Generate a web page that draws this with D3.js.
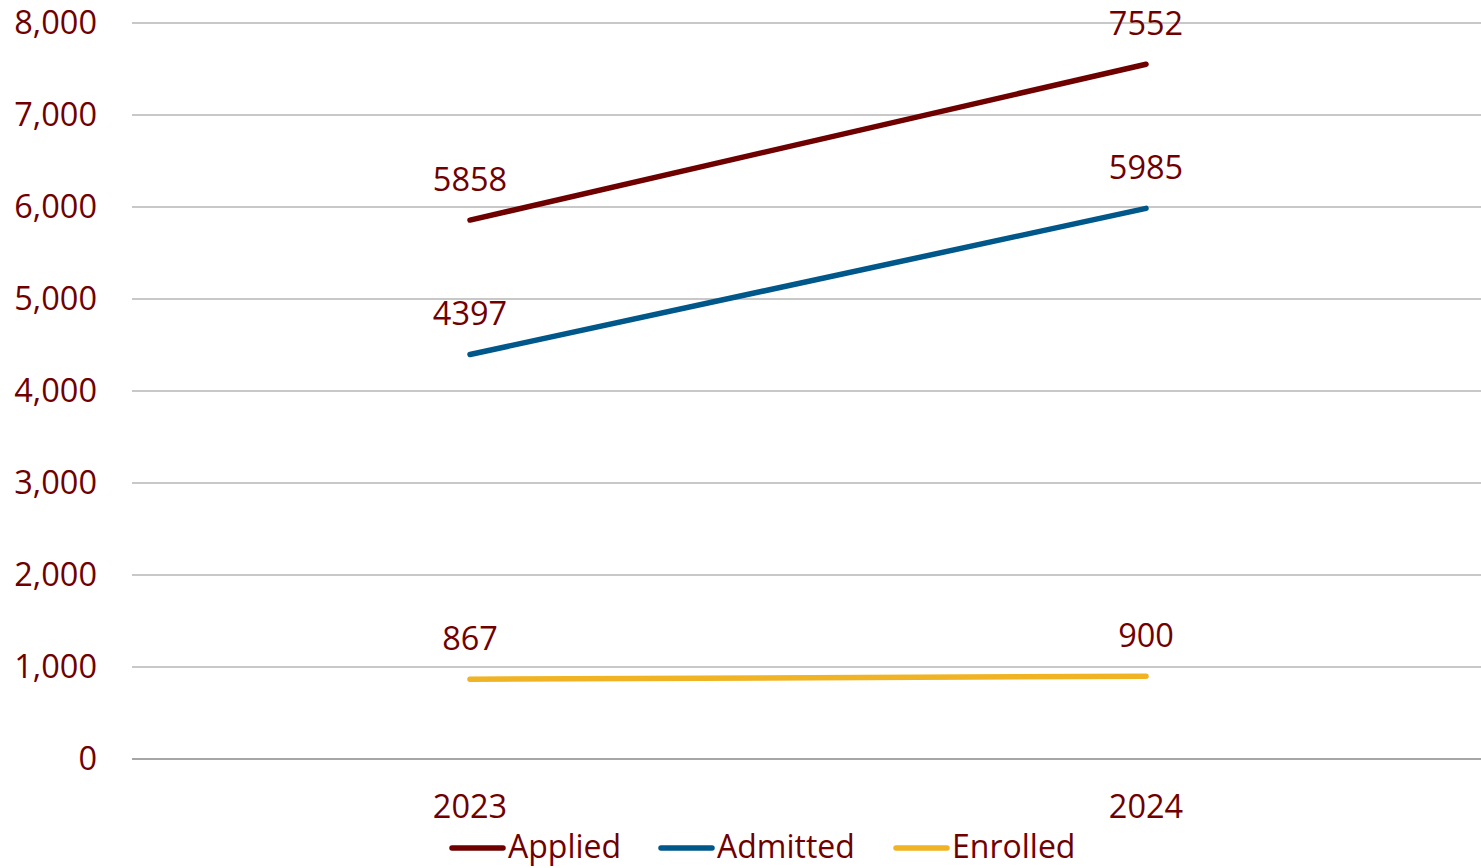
<!DOCTYPE html>
<html><head><meta charset="utf-8">
<script src="https://cdn.jsdelivr.net/npm/d3@7"></script>
<style>html,body{margin:0;padding:0;background:#fff;overflow:hidden}</style>
</head><body>
<svg id="c" width="1481" height="868"></svg>
<script>
const years = ["2023", "2024"];
const applied = [5858, 7552];
const admitted = [4397, 5985];
const enrolled = [867, 900];
const yTicks = [0, 1000, 2000, 3000, 4000, 5000, 6000, 7000, 8000];
const seriesNames = ["Applied", "Admitted", "Enrolled"];
const seriesColors = ["#6e0000", "#00578a", "#f0b323"];

const series = [applied, admitted, enrolled].map((v, i) => ({name: seriesNames[i], values: v, color: seriesColors[i]}));
const svg = d3.select("#c");
const font = "'Open Sans', sans-serif";
const textColor = "#700000";
const fs = 32.5;

const x = d3.scaleBand().domain(years).range([132, 1484]);
const y = d3.scaleLinear().domain([0, 8000]).range([759, 23]);
const cx = d => x(d) + x.bandwidth() / 2;

svg.append("g").selectAll("line").data(yTicks).join("line")
  .attr("x1", 132).attr("x2", 1481)
  .attr("y1", d => y(d)).attr("y2", d => y(d))
  .attr("stroke", d => d === 0 ? "#a6a6a6" : "#c8c8c8").attr("stroke-width", 2);

svg.append("g").selectAll("text").data(yTicks).join("text")
  .attr("x", 97).attr("y", d => y(d)).attr("dy", "0.35em")
  .attr("text-anchor", "end").attr("font-family", font).attr("font-size", fs)
  .attr("fill", textColor).text(d => d3.format(",")(d));

svg.append("g").selectAll("text").data(years).join("text")
  .attr("x", d => cx(d)).attr("y", 818)
  .attr("text-anchor", "middle").attr("font-family", font).attr("font-size", fs)
  .attr("fill", textColor).text(d => d);

const line = d3.line().x((d, i) => cx(years[i])).y(d => y(d));

series.forEach(s => {
  svg.append("path").datum(s.values).attr("d", line)
    .attr("fill", "none").attr("stroke", s.color).attr("stroke-width", 5.5)
    .attr("stroke-linecap", "round");
  svg.append("g").selectAll("text").data(s.values).join("text")
    .attr("x", (d, i) => cx(years[i])).attr("y", d => y(d) - 29)
    .attr("text-anchor", "middle").attr("font-family", font).attr("font-size", fs)
    .attr("fill", textColor).text(d => d);
});

const legendX = [450, 659, 894];
const lg = svg.append("g");
series.forEach((s, i) => {
  lg.append("line").attr("x1", legendX[i] + 2).attr("x2", legendX[i] + 53)
    .attr("y1", 848).attr("y2", 848).attr("stroke", s.color).attr("stroke-width", 5.5)
    .attr("stroke-linecap", "round");
  lg.append("text").attr("x", legendX[i] + 58).attr("y", 858)
    .attr("font-family", font).attr("font-size", 32).attr("fill", textColor).text(s.name);
});
</script>
</body></html>
